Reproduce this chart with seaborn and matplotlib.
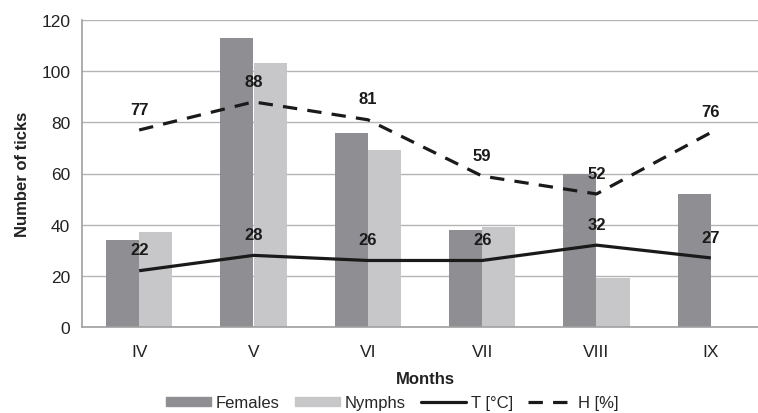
import numpy as np
import pandas as pd
import seaborn as sns
import matplotlib.pyplot as plt
from matplotlib.lines import Line2D
from matplotlib.patches import Patch

months = ["IV", "V", "VI", "VII", "VIII", "IX"]
females = [34, 113, 76, 38, 60, 52]
nymphs = [37, 103, 69, 39, 19, np.nan]
temp = [22, 28, 26, 26, 32, 27]
humid = [77, 88, 81, 59, 52, 76]

sns.set_style("white")
plt.rcParams["font.family"] = ["Liberation Sans", "DejaVu Sans"]

df = pd.DataFrame({
    "month": months * 2,
    "count": females + nymphs,
    "group": ["Females"] * len(months) + ["Nymphs"] * len(months),
})

fig = plt.figure(figsize=(7.58, 4.14), dpi=100)
ax = fig.add_axes([82 / 758, 1 - 328 / 414, (768 - 82) / 758, (328 - 21) / 414])

colors = {"Females": "#8f8f93", "Nymphs": "#c7c7c9"}
sns.barplot(data=df, x="month", y="count", hue="group", order=months,
            palette=colors, width=0.58, gap=0, saturation=1, ax=ax,
            legend=False, zorder=2, linewidth=0)

x = np.arange(len(months))
ax.plot(x, temp, color="#1a1a1a", lw=2.3, zorder=3, solid_capstyle="butt")
ax.plot(x, humid, color="#1a1a1a", lw=2.3, dashes=(4.5, 3.2), zorder=3)

for xi, v in zip(x, temp):
    ax.annotate(str(v), (xi, v), xytext=(0, 15), textcoords="offset points",
                ha="center", va="center", fontsize=12, fontweight="bold",
                color="#1a1a1a", zorder=4)
for xi, v in zip(x, humid):
    ax.annotate(str(v), (xi, v), xytext=(0, 15), textcoords="offset points",
                ha="center", va="center", fontsize=12, fontweight="bold",
                color="#1a1a1a", zorder=4)

ax.set_xlim(-0.5, len(months) - 0.5)
ax.set_ylim(0, 120)
ax.set_yticks(range(0, 121, 20))
ax.yaxis.grid(True, color="#b4b4b4", lw=1)
ax.set_axisbelow(True)
for s in ["top", "right"]:
    ax.spines[s].set_visible(False)
for s in ["left", "bottom"]:
    ax.spines[s].set_color("#a0a0a0")
    ax.spines[s].set_linewidth(1.2)

ax.set_xticks(np.arange(-0.5, len(months), 1), minor=True)
ax.tick_params(axis="x", which="major", length=0, labelsize=12.5, pad=12, colors="#222222")
ax.tick_params(axis="x", which="minor", length=5, color="#a0a0a0", width=1.2)
ax.tick_params(axis="y", length=5, color="#a0a0a0", width=1.2, labelsize=12.5, colors="#222222")

ax.set_xlabel("Months", fontsize=12, fontweight="bold", labelpad=9, color="#222222")
ax.set_ylabel("Number of ticks", fontsize=12, fontweight="bold", labelpad=8, color="#222222")

handles = [
    Patch(color=colors["Females"], label="Females"),
    Patch(color=colors["Nymphs"], label="Nymphs"),
    Line2D([], [], color="#1a1a1a", lw=2.3, label="T [°C]"),
    Line2D([], [], color="#1a1a1a", lw=2.3, dashes=(4.5, 3.2), label="H [%]"),
]
fig.legend(handles=handles, loc="center", bbox_to_anchor=(392 / 758, 1 - 404 / 414),
           ncol=4, frameon=False, fontsize=12, handlelength=2.7,
           handletextpad=0.3, columnspacing=0.9, handleheight=0.5)

fig.savefig("out.png", dpi=100)
